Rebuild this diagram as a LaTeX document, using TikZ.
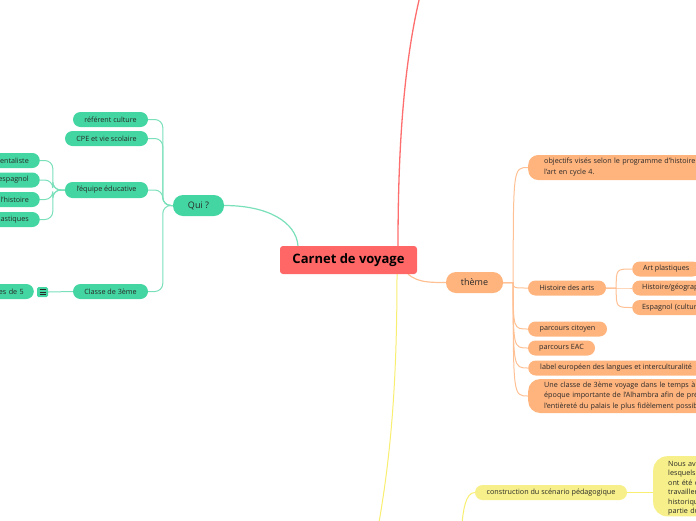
\documentclass[tikz,border=0pt]{standalone}
\usepackage{fontspec}
\setmainfont{Open Sans}
\usetikzlibrary{backgrounds}
\definecolor{mgreen}{RGB}{68,214,162}
\definecolor{lgreen}{RGB}{122,224,186}
\definecolor{mred}{RGB}{255,102,102}
\definecolor{lred}{RGB}{255,110,110}
\definecolor{morange}{RGB}{255,180,126}
\definecolor{lorange}{RGB}{255,192,148}
\definecolor{myellow}{RGB}{247,240,138}
\definecolor{lyellow}{RGB}{248,238,112}
\definecolor{txt}{RGB}{40,40,40}
\tikzset{
 small/.style={font=\fontsize{7.2}{8.5}\selectfont, text=txt, inner sep=0pt, minimum height=15pt, rounded corners=7.5pt},
 gbox/.style={small, fill=mgreen},
 obox/.style={small, fill=morange},
 ybox/.style={small, fill=myellow},
 gcut/.style={gbox, anchor=east, text width=80pt, align=right, inner xsep=11pt},
 ocut/.style={obox, anchor=west, text width=100pt, align=left, inner xsep=10pt},
 bignode/.style={font=\fontsize{9}{10}\selectfont, minimum height=21pt, rounded corners=10pt},
 gline/.style={draw=lgreen, line width=1pt},
 oline/.style={draw=lorange, line width=1pt},
 yline/.style={draw=lyellow, line width=1pt},
 rline/.style={draw=lred, line width=1.3pt},
 cnode/.style={fill=mred, rounded corners=3pt, minimum width=137pt, minimum height=28pt, inner sep=0pt, font=\bfseries\fontsize{13}{15}\selectfont, text=black},
}
\begin{document}
\begin{tikzpicture}[x=1pt,y=-1pt]
\useasboundingbox (0,0) rectangle (696,520);

% central
\node[cnode] (c) at (348.5,260) {Carnet de voyage};

% green branch
\node[gbox, bignode, minimum width=51pt] (qui) at (198.5,205.5) {Qui ?};
\node[gbox, minimum width=75pt] (ref) at (110.5,119.5) {référent culture};
\node[gbox, minimum width=83pt] (cpe) at (106.5,138.5) {CPE et vie scolaire};
\node[gbox, minimum width=83pt, minimum height=16pt] (equ) at (106.5,190) {l'équipe éducative};
\node[gbox, minimum width=75pt] (cla) at (110.5,291.5) {Classe de 3ème};
\node[gcut] (e1) at (40,160.5) {entaliste};
\node[gcut] (e2) at (40,180) {espagnol};
\node[gcut] (e3) at (40,199.5) {l'histoire};
\node[gcut] (e4) at (40,219.5) {astiques};
\node[gcut, inner xsep=10pt] (c1) at (34,291.5) {es de 5};
\node[fill=mgreen, minimum width=11pt, minimum height=10pt, inner sep=0pt, rounded corners=1.5pt] (ic) at (42.5,292) {};
\draw[txt, line width=0.6pt]
  ([shift={(-3,-2.5)}]ic.center) -- ([shift={(3,-2.5)}]ic.center)
  ([shift={(-3,0)}]ic.center) -- ([shift={(3,0)}]ic.center)
  ([shift={(-3,2.5)}]ic.center) -- ([shift={(3,2.5)}]ic.center);

% orange branch
\node[obox, bignode, minimum width=57pt] (th) at (474.5,282.5) {thème};
\node[obox, anchor=west, text width=190pt, align=left, inner xsep=16pt, minimum height=25pt, rounded corners=10pt, font=\fontsize{7.2}{11}\selectfont] (obj) at (528,167.5) {objectifs visés selon le programme d'histoire de\\l'art en cycle 4.};
\node[obox, minimum width=78pt] (hda) at (567,288) {Histoire des arts};
\node[obox, minimum width=79pt] (pc) at (567.5,329) {parcours citoyen};
\node[obox, minimum width=67pt] (eac) at (561.5,348) {parcours EAC};
\node[obox, anchor=west, inner xsep=12pt] (lab) at (528,368) {label européen des langues et interculturalité};
\node[obox, anchor=west, text width=220pt, align=left, inner xsep=16pt, minimum height=34pt, rounded corners=12pt, font=\fontsize{7.2}{10.5}\selectfont] (une) at (528,396) {Une classe de 3ème voyage dans le temps à cette\\époque importante de l'Alhambra afin de présenter\\l'entièreté du palais le plus fidèlement possible.};
\node[obox, anchor=west, minimum width=68pt] (ap) at (632,269) {Art plastiques};
\node[ocut] (hg) at (632,288) {Histoire/géographie};
\node[ocut] (esp) at (632,307.5) {Espagnol (culture)};

% yellow branch
\node[ybox, minimum width=152pt] (con) at (551,492.5) {construction du scénario pédagogique};
\node[ybox, anchor=north west, text width=60pt, align=left, inner xsep=15pt, inner ysep=5pt, minimum height=0pt, text depth=45pt, rounded corners=14pt, font=\fontsize{7.2}{9.5}\selectfont] (big) at (653,456) {Nous av\\lesquels\\ont été c\\travailler\\historiqu\\partie du};

\coordinate (rtop) at (421,-8);
\coordinate (ybot) at (378,528);
\coordinate (ycb) at (462,525);
\coordinate (tj) at ([xshift=10pt]th.east);
\coordinate (hj) at ([xshift=10pt]hda.east);

\begin{scope}[on background layer]
% green connectors
\draw[gline, line width=1.2pt] (qui.east) .. controls (268,205.5) and (296,222) .. ([xshift=-50.5pt]c.north);
\foreach \n in {ref,cpe,equ,cla}
  \draw[gline, rounded corners=8pt] (qui.west) -- ++(-10,0) |- (\n.east);
\foreach \n in {e1,e2,e3,e4}
  \draw[gline, rounded corners=8pt] (equ.west) -- ++(-12,0) |- (\n.east);
\draw[gline] (ic.east) -- (cla.west);
% red
\draw[rline] ([xshift=49.5pt]c.north) .. controls +(0,-100) and (404,60) .. (rtop);
% yellow
\draw[yline] ([xshift=48.5pt]c.south) .. controls +(0,100) and (392,450) .. (ybot);
\draw[yline] (con.west) .. controls +(-9,0) and +(1,-15) .. (ycb);
\draw[yline] (con.east) -- (big.west |- con.east);
% orange
\draw[oline, line width=1.2pt] ([xshift=59.5pt]c.south) .. controls +(10,8) and +(-18,0) .. (th.west);
\foreach \n in {obj,hda,pc,eac,lab,une}
  \draw[oline] (th.east) -- (tj) .. controls (tj |- \n.west) .. (\n.west);
\foreach \n in {ap,hg,esp}
  \draw[oline] (hda.east) -- (hj) .. controls (hj |- \n.west) .. (\n.west);
\end{scope}
\end{tikzpicture}
\end{document}
